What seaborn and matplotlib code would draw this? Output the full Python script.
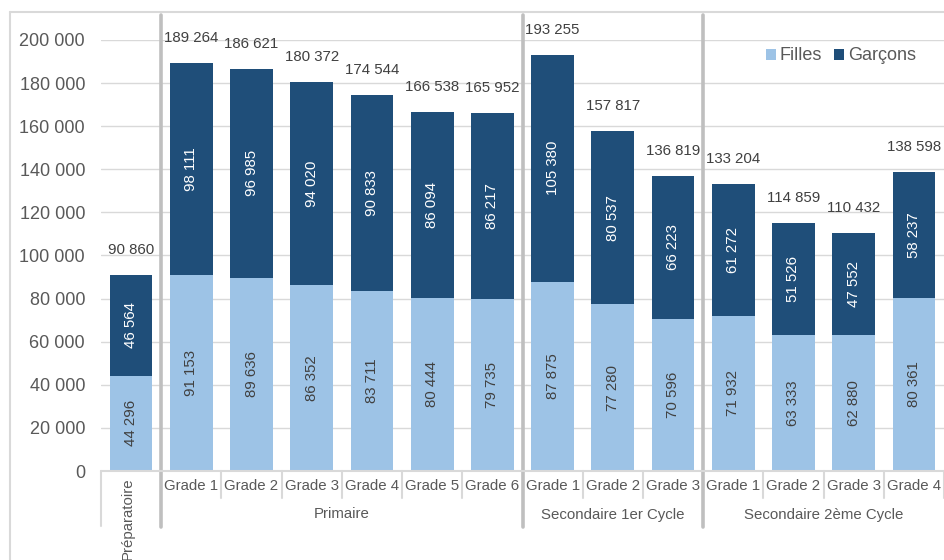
import matplotlib
matplotlib.use("Agg")
import matplotlib.pyplot as plt
import matplotlib.font_manager as fm
from matplotlib.lines import Line2D
from matplotlib.patches import Patch
import matplotlib.transforms as mtrans
import seaborn as sns
import pandas as pd

# ---------------- data ----------------
categories = ["Préparatoire",
              "Grade 1", "Grade 2", "Grade 3", "Grade 4", "Grade 5", "Grade 6",
              "Grade 1", "Grade 2", "Grade 3",
              "Grade 1", "Grade 2", "Grade 3", "Grade 4"]
groups = ["", "Primaire", "Secondaire 1er Cycle", "Secondaire 2ème Cycle"]
group_sizes = [1, 6, 3, 4]
filles = [44296, 91153, 89636, 86352, 83711, 80444, 79735,
          87875, 77280, 70596, 71932, 63333, 62880, 80361]
garcons = [46564, 98111, 96985, 94020, 90833, 86094, 86217,
           105380, 80537, 66223, 61272, 51526, 47552, 58237]
totals = [90860, 189264, 186621, 180372, 174544, 166538, 165952,
          193255, 157817, 136819, 133204, 114859, 110432, 138598]
yticks = [0, 20000, 40000, 60000, 80000, 100000, 120000, 140000,
          160000, 180000, 200000]
series_names = ["Filles", "Garçons"]

# ---------------- style ----------------
LIGHT = "#9DC3E6"
DARK = "#1F4E79"
TXT = "#595959"
GRID = "#D9D9D9"
SEP = "#BFBFBF"

sns.set_theme(style="white")
plt.rcParams["font.family"] = ["Liberation Sans", "DejaVu Sans"]

avail = {f.name for f in fm.fontManager.ttflist}
if "Liberation Sans Narrow" in avail:
    NARROW = dict(family=["Liberation Sans Narrow", "Liberation Sans", "DejaVu Sans"], size=13)
else:
    NARROW = dict(family=["Liberation Sans", "DejaVu Sans"], size=10.8)

keys = [f"{i}" for i in range(len(categories))]
df = pd.DataFrame({"key": keys, "cat": categories,
                   "Filles": filles, "Garçons": garcons, "Total": totals})

fig = plt.figure(figsize=(9.44, 5.6), dpi=100)
W, H = 944, 560
ax_left, ax_right, ax_bot, ax_top = 101, 944, 471, 40
ax = fig.add_axes([ax_left / W, 1 - ax_bot / H, (ax_right - ax_left) / W, (ax_bot - ax_top) / H])

# chart border
fig.add_artist(Line2D([10 / W, 10 / W], [0, 1 - 12 / H], color=GRID, lw=1.5, transform=fig.transFigure))
fig.add_artist(Line2D([10 / W, 1], [1 - 12 / H, 1 - 12 / H], color=GRID, lw=1.5, transform=fig.transFigure))

# bars (stacked: total drawn dark, filles overlaid light)
sns.barplot(data=df, x="key", y="Total", order=keys, color=DARK, width=0.71,
            saturation=1, linewidth=0, ax=ax, zorder=3)
sns.barplot(data=df, x="key", y="Filles", order=keys, color=LIGHT, width=0.71,
            saturation=1, linewidth=0, ax=ax, zorder=4)

ax.set_xlim(-0.5, len(keys) - 0.5)
ax.set_ylim(0, 200000)
ax.set_yticks(yticks)
ax.set_yticklabels([f"{v:,}".replace(",", " ") for v in yticks], color=TXT, fontsize=13)
ax.tick_params(axis="y", length=0, pad=11.5)
ax.set_xticks([])
ax.set_xlabel("")
ax.set_ylabel("")
for s in ax.spines.values():
    s.set_visible(False)
ax.grid(axis="y", color=GRID, lw=1, zorder=0)
ax.set_axisbelow(True)
ax.axhline(0, color=GRID, lw=1.5, zorder=5, clip_on=False)

# labels in bars and totals
for i in range(len(keys)):
    f, g, t = filles[i], garcons[i], totals[i]
    ax.text(i, f / 2, f"{f:,}".replace(",", " "), rotation=90, ha="center", va="center",
            color="#404040", zorder=6, **NARROW)
    ax.text(i, f + g / 2, f"{g:,}".replace(",", " "), rotation=90, ha="center", va="center",
            color="white", zorder=6, **NARROW)
    ax.annotate(f"{t:,}".replace(",", " "), (i, t), xytext=(0, 18), textcoords="offset points",
                ha="center", va="center", color="#404040", annotation_clip=False, **NARROW)

# category axis (multi-level)
bt = mtrans.blended_transform_factory(ax.transData, ax.transAxes)
def ay(px):
    return (ax_bot - px) / (ax_bot - ax_top)

bounds = []
pos = 0
for gs in group_sizes:
    bounds.append(pos - 0.5)
    pos += gs
bounds.append(pos - 0.5)

# left axis stub
ax.plot([-0.5, -0.5], [ay(471), ay(526)], transform=bt, color=GRID, lw=1.5, clip_on=False, zorder=5)
# group separators (thick, through plot area)
for b in bounds[1:-1]:
    ax.plot([b, b], [ay(15), ay(527)], transform=bt, color=SEP, lw=2.6, clip_on=False, zorder=2)
# short grade separators
for i in range(1, len(keys) + 1):
    b = i - 0.5
    if b in bounds[:-1]:
        continue
    ax.plot([b, b], [ay(471), ay(498)], transform=bt, color=GRID, lw=1.5, clip_on=False, zorder=5)

# grade labels
for i, c in enumerate(categories):
    if group_sizes[0] == 1 and i == 0:
        ax.text(i - 0.05, ay(477), c, rotation=90, ha="center", va="top", transform=bt,
                color=TXT, clip_on=False, **NARROW)
    else:
        ax.text(i, ay(486.5), c, ha="center", va="center", transform=bt, color=TXT,
                clip_on=False, **NARROW)
# group labels
pos = 0
for gname, gs in zip(groups, group_sizes):
    if gname:
        ax.text(pos + (gs - 1) / 2, ay(514.5), gname, ha="center", va="center", transform=bt,
                color=TXT, clip_on=False, **NARROW)
    pos += gs

# legend
handles = [Patch(facecolor=LIGHT, edgecolor="none"), Patch(facecolor=DARK, edgecolor="none")]
leg = ax.legend(handles, series_names, loc="center right", ncol=2, frameon=False,
                bbox_to_anchor=(916 / W, 1 - 56 / H), bbox_transform=fig.transFigure,
                fontsize=13, handlelength=0.55, handleheight=0.55, handletextpad=0.2,
                columnspacing=0.7, borderaxespad=0, borderpad=0, labelcolor=TXT)

fig.savefig("out.png", dpi=100)
